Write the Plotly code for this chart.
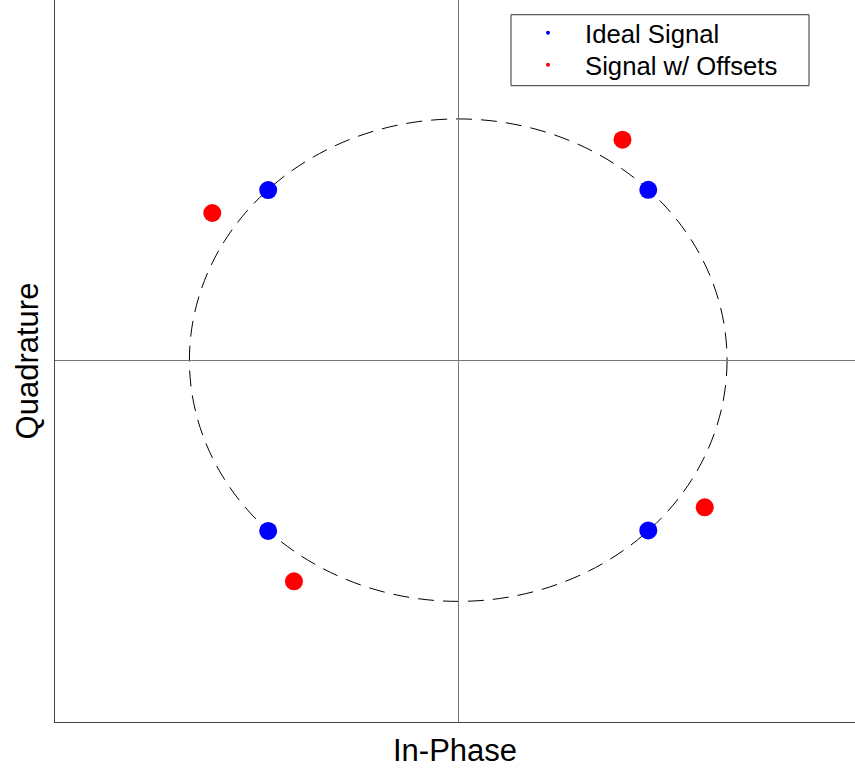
import plotly.graph_objects as go

# Cluster centres (In-Phase, Quadrature)
ideal_i = [0.707, -0.707, -0.707, 0.707]
ideal_q = [0.706, 0.705, -0.708, -0.706]
offset_i = [0.611, -0.915, -0.611, 0.917]
offset_q = [0.914, 0.610, -0.917, -0.610]

series_names = ["Ideal Signal", "Signal w/ Offsets"]
series_colors = ["#0000ff", "#ff0000"]

x_range = [-1.5, 1.476]
y_range = [-1.5, 1.493]

fig = go.Figure()

# data clusters (no legend)
fig.add_trace(go.Scatter(x=ideal_i, y=ideal_q, mode="markers", showlegend=False,
                         marker=dict(color=series_colors[0], size=18, line=dict(width=0))))
fig.add_trace(go.Scatter(x=offset_i, y=offset_q, mode="markers", showlegend=False,
                         marker=dict(color=series_colors[1], size=18, line=dict(width=0))))
# legend entries with small dots, one per legend so row spacing can be matched
for k, (name, col) in enumerate(zip(series_names, series_colors)):
    fig.add_trace(go.Scatter(x=[None], y=[None], mode="markers", name=name,
                             legend="legend" if k == 0 else "legend2",
                             marker=dict(color=col, size=4)))

# unit circle
fig.add_shape(type="circle", xref="x", yref="y", x0=-1, y0=-1, x1=1, y1=1,
              line=dict(color="black", width=1, dash="16px,9px"), layer="below")
# legend box
fig.add_shape(type="rect", xref="paper", yref="paper",
              x0=0.57, x1=0.9425, y0=0.8813, y1=0.9796,
              fillcolor="white", line=dict(color="#333", width=1), layer="above")

leg_common = dict(xanchor="left", yanchor="middle", bgcolor="rgba(0,0,0,0)",
                  borderwidth=0, font=dict(size=25.7), itemwidth=64)

fig.update_layout(
    width=855, height=774,
    margin=dict(l=55, r=0, t=0, b=52),
    plot_bgcolor="white", paper_bgcolor="white",
    font=dict(family="Liberation Sans, Arial, sans-serif", color="black"),
    legend=dict(x=0.570, y=0.9543, **leg_common),
    legend2=dict(x=0.570, y=0.9100, **leg_common),
    xaxis=dict(range=x_range, showgrid=False, showticklabels=False, ticks="",
               zeroline=True, zerolinecolor="#777", zerolinewidth=1,
               showline=True, linecolor="#444", linewidth=1, mirror=False,
               title=dict(text="In-Phase", font=dict(size=31), standoff=17),
               automargin=False),
    yaxis=dict(range=y_range, showgrid=False, showticklabels=False, ticks="",
               zeroline=True, zerolinecolor="#777", zerolinewidth=1,
               showline=True, linecolor="#444", linewidth=1, mirror=False,
               title=dict(text="Quadrature", font=dict(size=31), standoff=6),
               automargin=False),
)

fig.write_html("out.html", config={"displayModeBar": False},
               post_script="document.body.style.margin='0';")
